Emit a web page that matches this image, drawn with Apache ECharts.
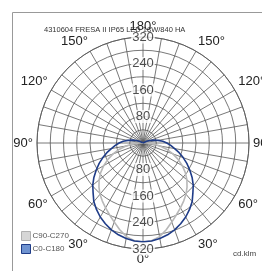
<!DOCTYPE html>
<html lang="en">
<head>
    <meta charset="UTF-8">
    <script src="https://cdn.jsdelivr.net/npm/echarts@6/dist/echarts.min.js"></script>
    <title>FRESA II polar</title>
    <style>
        body{ margin: 0; background: #fff; }
        #chart{ width: 262px; height: 271px; }
    </style>
</head>
<body>
<div id="chart"></div>
<script>
    // angles from nadir (deg) and intensities (cd/klm)
    let blueAngles = [0, 5, 10, 15, 20, 25, 30, 35, 40, 45, 50, 55, 60, 65, 70, 75, 80, 85, 90, 95, 100, 105, 110, 115, 120, 125, 130];
    let blueValues = [298, 297, 293, 287, 279, 269, 258, 245, 231, 213, 198, 181, 163, 146, 129, 113, 97, 84, 72, 60, 46, 34, 22, 12, 5, 1, 0];
    let grayAngles = [0, 5, 10, 15, 20, 25, 30, 35, 40, 45, 50, 55, 60, 65, 70, 75, 80, 85, 90, 95, 100];
    let grayValues = [300, 296, 287, 271, 254, 239, 226, 214, 202, 188, 173, 156, 137, 117, 96, 75, 52, 30, 12, 3, 0];
    let radiusLabels = [80, 160, 240, 320];
    let legendNames = ['C90-C270', 'C0-C180'];

    // mirror one half-plane to the other (C0 / C180 etc. are symmetric)
    function mirror(angles, values){
        let pts = [];
        for(let i = angles.length - 1; i > 0; i--){
            pts.push([values[i], -angles[i]]);
        }
        for(let i = 0; i < angles.length; i++){
            pts.push([values[i], angles[i]]);
        }
        return pts;
    }

    let labelPts = [];
    for(let r of radiusLabels){
        labelPts.push([r, 0]);
        labelPts.push([r, 180]);
    }

    var myChart = echarts.init(document.getElementById('chart'));
    myChart.setOption({
        animation: false,
        title: [
            {
                text: '4310604 FRESA II IP65 LED 18W/840 HA',
                left: 39, top: 21,
                textStyle: { fontSize: 7.5, fontWeight: 'normal', color: '#333', fontFamily: 'Liberation Sans' }
            },
            {
                text: 'cd.klm',
                left: 228, top: 245,
                textStyle: { fontSize: 8, fontWeight: 'normal', color: '#444', fontFamily: 'Liberation Sans' }
            }
        ],
        legend: {
            orient: 'vertical',
            left: 16, top: 226,
            itemWidth: 9, itemHeight: 9, itemGap: 3,
            icon: 'rect',
            textStyle: { fontSize: 8, color: '#555', fontFamily: 'Liberation Sans', padding: [0, 0, 0, -3] },
            data: [
                { name: legendNames[0], itemStyle: { color: '#d6d6d6', borderColor: '#b0b0b0', borderWidth: 1 } },
                { name: legendNames[1], itemStyle: { color: '#6f93d0', borderColor: '#1f3c88', borderWidth: 1 } }
            ]
        },
        polar: { center: [143, 143], radius: 106 },
        angleAxis: {
            type: 'value',
            min: -180, max: 180, interval: 10,
            startAngle: 90,
            clockwise: true,
            axisLine: { lineStyle: { color: '#555', width: 0.8 } },
            axisTick: { show: false },
            splitLine: { lineStyle: { color: '#555', width: 0.8 } },
            axisLabel: {
                margin: 4,
                fontSize: 13,
                color: '#222',
                fontFamily: 'Liberation Sans',
                formatter: function(v){ return v % 30 === 0 ? Math.abs(v) + '°' : ''; }
            }
        },
        radiusAxis: {
            type: 'value',
            min: 0, max: 320, interval: 40,
            axisLine: { show: false },
            axisTick: { show: false },
            axisLabel: { show: false },
            splitLine: { lineStyle: { color: '#555', width: 0.8 } }
        },
        series: [
            {
                name: legendNames[0],
                type: 'line',
                coordinateSystem: 'polar',
                data: mirror(grayAngles, grayValues),
                smooth: false,
                showSymbol: false,
                lineStyle: { color: '#b8b8b8', width: 1.6 },
                itemStyle: { color: '#b8b8b8' }
            },
            {
                name: legendNames[1],
                type: 'line',
                coordinateSystem: 'polar',
                data: mirror(blueAngles, blueValues),
                smooth: false,
                showSymbol: false,
                lineStyle: { color: '#1f3c88', width: 1.6 },
                itemStyle: { color: '#1f3c88' }
            },
            {
                // ring value labels on the vertical axis
                type: 'scatter',
                coordinateSystem: 'polar',
                symbolSize: 0,
                z: 5,
                silent: true,
                data: labelPts,
                label: {
                    show: true,
                    position: 'inside',
                    formatter: function(p){ return p.value[0]; },
                    fontSize: 13,
                    color: '#222',
                    fontFamily: 'Liberation Sans',
                    backgroundColor: '#fff',
                    padding: [0, 1]
                }
            }
        ],
        graphic: [
            {
                type: 'polyline',
                shape: { points: [[12.5, 271], [12.5, 12.5], [262, 12.5]] },
                style: { stroke: '#999', fill: null, lineWidth: 1 },
                silent: true
            }
        ]
    });
</script>
</body>
</html>
